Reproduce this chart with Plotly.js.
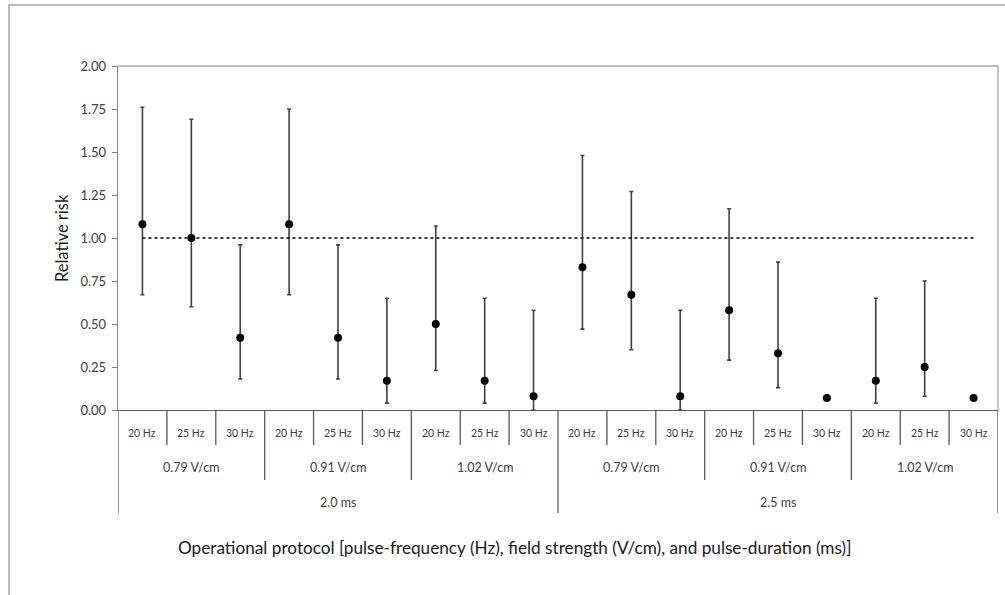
<!DOCTYPE html>
<html>
<head>
<meta charset="utf-8">
<script src="https://cdn.plot.ly/plotly-3.0.1.min.js"></script>
<style>html,body{margin:0;padding:0;background:#fff;}#chart{width:1005px;height:595px;}</style>
</head>
<body>
<div id="chart"></div>
<script>
// ---- data ----
var frequencies = ["20 Hz","25 Hz","30 Hz","20 Hz","25 Hz","30 Hz","20 Hz","25 Hz","30 Hz",
                   "20 Hz","25 Hz","30 Hz","20 Hz","25 Hz","30 Hz","20 Hz","25 Hz","30 Hz"];
var fieldStrengths = ["0.79 V/cm","0.91 V/cm","1.02 V/cm","0.79 V/cm","0.91 V/cm","1.02 V/cm"];
var pulseDurations = ["2.0 ms","2.5 ms"];
var relativeRisk = [1.08,1.00,0.42, 1.08,0.42,0.17, 0.50,0.17,0.08,
                    0.83,0.67,0.08, 0.58,0.33,0.07, 0.17,0.25,0.07];
var ciUpper = [1.76,1.69,0.96, 1.75,0.96,0.65, 1.07,0.65,0.58,
               1.48,1.27,0.58, 1.17,0.86,null, 0.65,0.75,null];
var ciLower = [0.67,0.60,0.18, 0.67,0.18,0.04, 0.23,0.04,0.00,
               0.47,0.35,0.00, 0.29,0.13,null, 0.04,0.08,null];
var referenceValue = 1.00;
var yTickValues = [0,0.25,0.5,0.75,1,1.25,1.5,1.75,2];
var yTickLabels = ["0.00","0.25","0.50","0.75","1.00","1.25","1.50","1.75","2.00"];

// ---- build ----
var n = frequencies.length;
var idx = frequencies.map(function(_, i){ return i; });
var errPlus = relativeRisk.map(function(v,i){ return ciUpper[i]===null ? NaN : +(ciUpper[i]-v).toFixed(4); });
var errMinus = relativeRisk.map(function(v,i){ return ciLower[i]===null ? NaN : +(v-ciLower[i]).toFixed(4); });

var trace = {
  x: idx, y: relativeRisk, type: 'scatter', mode: 'markers',
  marker: {color: '#000', size: 8},
  error_y: {type: 'data', symmetric: false, array: errPlus, arrayminus: errMinus,
            color: '#404040', thickness: 1.6, width: 2},
  hoverinfo: 'none', showlegend: false
};

var fam = 'Lato, "Liberation Sans", sans-serif';
var shapes = [];
var annotations = [];

// outer frame
shapes.push({type:'rect', xref:'paper', yref:'paper', x0:-0.1239, x1:1.05, y0:-0.7, y1:1.1773,
             line:{color:'#a6a6a6', width:1.5}, fillcolor:'rgba(0,0,0,0)', layer:'below'});
// reference line
shapes.push({type:'line', xref:'x', yref:'y', x0:0, x1:n-1, y0:referenceValue, y1:referenceValue,
             line:{color:'#000', width:1.5, dash:'dot'}});

var row1 = -0.1017, row2 = -0.2035, row3 = -0.2994;
for (var i = 0; i <= n; i++) {
  var bottom = (i % 9 === 0) ? row3 : ((i % 3 === 0) ? row2 : row1);
  shapes.push({type:'line', xref:'x', yref:'paper', x0:i-0.5, x1:i-0.5, y0:0, y1:bottom,
               line:{color:'#595959', width:1.3}});
}
frequencies.forEach(function(f, i){
  annotations.push({xref:'x', yref:'paper', x:i, y:-0.0669, yanchor:'middle', xanchor:'center', text:f, showarrow:false,
                    font:{family:fam, size:10.5, color:'#404040'}});
});
fieldStrengths.forEach(function(f, j){
  annotations.push({xref:'x', yref:'paper', x:j*3+1, y:-0.1686, yanchor:'middle', xanchor:'center', text:f, showarrow:false,
                    font:{family:fam, size:12.5, color:'#404040'}});
});
pulseDurations.forEach(function(p, k){
  annotations.push({xref:'x', yref:'paper', x:k*9+4, y:-0.2703, yanchor:'middle', xanchor:'center', text:p, showarrow:false,
                    font:{family:fam, size:12.5, color:'#404040'}});
});
annotations.push({xref:'paper', yref:'paper', x:0.451, y:-0.401, yanchor:'middle', xanchor:'center',
                  text:'Operational protocol [pulse-frequency (Hz), field strength (V/cm), and pulse-duration (ms)]',
                  showarrow:false, font:{family:fam, size:17.2, color:'#1a1a1a'}});
annotations.push({xref:'paper', yref:'paper', x:-0.0636, y:0.5, yanchor:'middle', xanchor:'center',
                  text:'Relative risk', textangle:-90,
                  showarrow:false, font:{family:fam, size:16.5, color:'#1a1a1a'}});

var layout = {
  width: 1005, height: 595,
  margin: {l:118, r:7, t:66, b:185},
  paper_bgcolor: '#fff', plot_bgcolor: '#fff',
  xaxis: {range:[-0.5, n-0.5], showticklabels:false, ticks:'', showgrid:false, zeroline:false,
          showline:true, linecolor:'#595959', linewidth:1.3, fixedrange:true},
  yaxis: {range:[0,2], tickvals:yTickValues, ticktext:yTickLabels, ticks:'outside', ticklen:5,
          tickcolor:'#808080', showgrid:false, zeroline:false, showline:true, linecolor:'#808080',
          linewidth:1.3, tickfont:{family:fam, size:13, color:'#404040'},
          ticklabelstandoff:3, fixedrange:true},
  shapes: shapes.concat([
    {type:'line', xref:'paper', yref:'paper', x0:0, x1:1, y0:1, y1:1, line:{color:'#a6a6a6', width:1.3}},
    {type:'line', xref:'paper', yref:'paper', x0:1, x1:1, y0:0, y1:1, line:{color:'#a6a6a6', width:1.3}}
  ]),
  annotations: annotations
};

Plotly.newPlot('chart', [trace], layout, {displayModeBar:false, staticPlot:true});
</script>
</body>
</html>
